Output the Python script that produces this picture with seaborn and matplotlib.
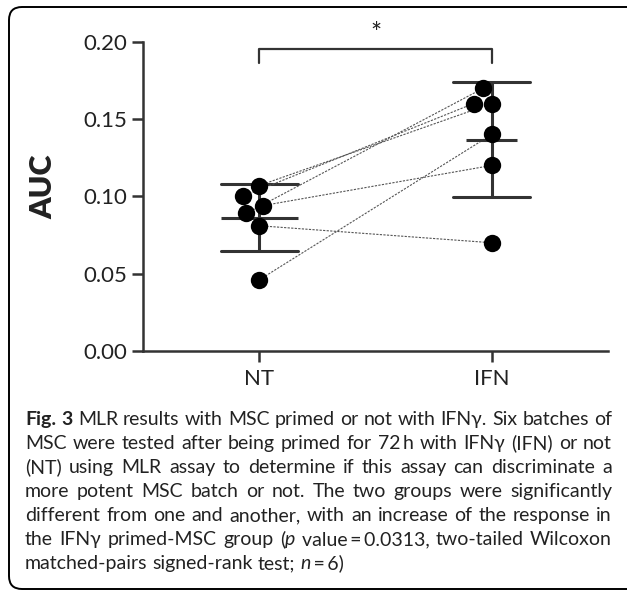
import re
import pandas as pd
import seaborn as sns
import matplotlib.pyplot as plt
from matplotlib.patches import PathPatch
from matplotlib.path import Path
from matplotlib.transforms import IdentityTransform

# --- data ---------------------------------------------------------------
groups = ["NT", "IFN"]
batch = [1, 2, 3, 4, 5, 6]
nt_auc = [0.107, 0.100, 0.089, 0.094, 0.081, 0.046]
ifn_auc = [0.160, 0.160, 0.170, 0.120, 0.070, 0.140]
y_ticks = [0.00, 0.05, 0.10, 0.15, 0.20]
signif = "*"

caption_lines = [
    "**Fig.** **3** MLR results with MSC primed or not with IFNγ. Six batches of",
    "MSC were tested after being primed for 72\u2009h with IFNγ (IFN) or not",
    "(NT) using MLR assay to determine if this assay can discriminate a",
    "more potent MSC batch or not. The two groups were significantly",
    "different from one and another, with an increase of the response in",
    "the IFNγ primed-MSC group (_p_ value\u2009=\u20090.0313, two-tailed Wilcoxon",
    "matched-pairs signed-rank test; _n_\u2009=\u20096)",
]

df = pd.DataFrame({
    "batch": batch * 2,
    "group": [groups[0]] * len(nt_auc) + [groups[1]] * len(ifn_auc),
    "auc": nt_auc + ifn_auc,
})

W, H = 627, 592
sns.set_style("ticks")
plt.rcParams["font.family"] = ["Lato", "DejaVu Sans"]

fig = plt.figure(figsize=(W / 100, H / 100), dpi=100)
ax = fig.add_axes([143 / W, 1 - 351 / H, (608 - 143) / W, (351 - 41.7) / H])

dark = "#333333"

# mean +/- SD bars
sns.pointplot(data=df, x="group", y="auc", order=groups, errorbar="sd",
              capsize=0.33, color=dark, marker="", linestyle="none",
              err_kws={"linewidth": 2.2}, ax=ax)

n_before = len(ax.collections)
sns.swarmplot(data=df, x="group", y="auc", order=groups, color="black",
              size=12.5, ax=ax, zorder=4)
swarm_cols = ax.collections[n_before:]

ax.set_xlim(-0.5, 1.5)
ax.set_ylim(0, 0.20)
fig.canvas.draw()

# mean lines
means = df.groupby("group")["auc"].mean().reindex(groups)
mean_w = [0.33, 0.22]
for i, g in enumerate(groups):
    ax.hlines(means[g], i - mean_w[i] / 2, i + mean_w[i] / 2, color=dark,
              lw=2.2, zorder=3)

# paired lines between the swarm positions
pos = [c.get_offsets().copy() for c in swarm_cols]
for k in range(len(batch)):
    ax.plot([pos[0][k][0], pos[1][k][0]], [pos[0][k][1], pos[1][k][1]],
            ls=(0, (2, 1.2)), lw=0.8, color="#555555", zorder=2)

# significance bracket
ax.plot([0, 0, 1, 1], [0.186, 0.1955, 0.1955, 0.186], color=dark, lw=1.6,
        clip_on=False)
ax.text(0.5, 0.2045, signif, ha="center", va="center", fontsize=19,
        color="#222222", clip_on=False)

ax.set_xlim(-0.5, 1.5)
ax.set_ylim(0, 0.20)
ax.set_yticks(y_ticks)
ax.set_yticklabels([f"{t:.2f}" for t in y_ticks])
ax.set_xlabel("")
ax.set_ylabel("AUC", fontsize=22, fontweight="heavy", color="#222222")
ax.yaxis.set_label_coords(-0.185, 0.53)
sns.despine(ax=ax)
for s in ("left", "bottom"):
    ax.spines[s].set_linewidth(1.8)
    ax.spines[s].set_color(dark)
ax.tick_params(axis="both", length=8, width=1.8, color=dark, labelsize=16,
               labelcolor="#222222")
ax.tick_params(axis="x", pad=5)

# caption, justified like the journal layout
renderer = fig.canvas.get_renderer()
left_px, right_px = 25, 612
base0, step = 425, 24
cap_size = 14


def tokens(word):
    parts = []
    for seg in re.split(r"(\*\*.*?\*\*|_.*?_)", word):
        if not seg:
            continue
        if seg.startswith("**"):
            parts.append((seg[2:-2], {"fontweight": "bold"}))
        elif seg.startswith("_"):
            parts.append((seg[1:-1], {"fontstyle": "italic"}))
        else:
            parts.append((seg, {}))
    return parts


tmp = fig.text(0, 0, "a a", fontsize=cap_size)
tmp2 = fig.text(0, 0, "aa", fontsize=cap_size)
space_w = (tmp.get_window_extent(renderer).width
           - tmp2.get_window_extent(renderer).width)
tmp.remove()
tmp2.remove()

for li, line in enumerate(caption_lines):
    y = 1 - (base0 + li * step) / H
    words = []
    for w in line.split(" "):
        arts = []
        for txt, kw in tokens(w):
            arts.append(fig.text(0, y, txt, fontsize=cap_size, va="baseline",
                                 color="#222222", **kw))
        widths = [a.get_window_extent(renderer).width for a in arts]
        words.append((arts, widths))
    total = sum(sum(ws) for _, ws in words)
    if li < len(caption_lines) - 1:
        gap = (right_px - left_px - total) / (len(words) - 1)
    else:
        gap = space_w
    x = left_px
    for arts, ws in words:
        for a, wpx in zip(arts, ws):
            a.set_x(x / W)
            x += wpx
        x += gap

# open rounded frame (its right side lies outside the crop)
x0, top, bot, r = 9, H - 7, 3, 13
frame_path = Path(
    [(W + 5, top), (x0 + r, top), (x0, top), (x0, top - r),
     (x0, bot + r), (x0, bot), (x0 + r, bot), (W + 5, bot)],
    [Path.MOVETO, Path.LINETO, Path.CURVE3, Path.CURVE3,
     Path.LINETO, Path.CURVE3, Path.CURVE3, Path.LINETO])
fig.add_artist(PathPatch(frame_path, transform=IdentityTransform(),
                         fill=False, lw=1.4, ec="black"))

fig.savefig("out.png", dpi=100)
